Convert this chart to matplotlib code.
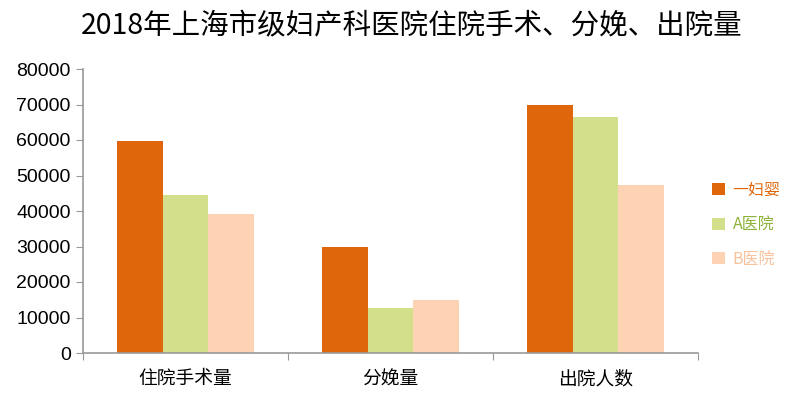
import matplotlib
matplotlib.use("Agg")
import matplotlib.pyplot as plt
import numpy as np

plt.rcParams['font.family'] = ['Noto Sans CJK SC', 'DejaVu Sans']

categories = ["住院手术量", "分娩量", "出院人数"]
series_names = ["一妇婴", "A医院", "B医院"]
yifuying = [59800, 29800, 69800]
hospital_a = [44500, 12600, 66500]
hospital_b = [39100, 14900, 47300]
yticks = [0, 10000, 20000, 30000, 40000, 50000, 60000, 70000, 80000]

colors = ["#E0660B", "#D4DF8C", "#FDD3B4"]
label_colors = ["#E0660B", "#8DB33A", "#F8C39C"]

fig = plt.figure(figsize=(8, 4), dpi=100)
ax = fig.add_axes([0.104, 0.1175, 0.7685, 0.71])

x = np.arange(len(categories))
w = 0.222
series = [yifuying, hospital_a, hospital_b]
handles = []
for i, (vals, c) in enumerate(zip(series, colors)):
    b = ax.bar(x + (i - 1) * w, vals, width=w, color=c, label=series_names[i])
    handles.append(b)

ax.set_xlim(-0.5, 2.5)
ax.set_ylim(0, 80000)
ax.set_yticks(yticks)
ax.set_yticklabels([str(v) for v in yticks], fontsize=14, family=['Liberation Sans', 'DejaVu Sans'])
ax.set_xticks([-0.5, 0.5, 1.5, 2.5])
ax.set_xticklabels([])
ax.set_xticks(x, minor=True)
ax.set_xticklabels(categories, minor=True, fontsize=13.5, fontweight='medium')
ax.tick_params(axis='x', which='minor', length=0, pad=11)
ax.tick_params(axis='x', which='major', length=5, color='#999999', direction='out')
ax.tick_params(axis='y', length=5, color='#999999', direction='out', pad=4)

for s in ['top', 'right']:
    ax.spines[s].set_visible(False)
for s in ['left', 'bottom']:
    ax.spines[s].set_color('#999999')
    ax.spines[s].set_linewidth(1.2)

leg = ax.legend(handles=handles, labels=series_names, loc='center left',
                bbox_to_anchor=(0.872, 0.438), bbox_transform=fig.transFigure,
                frameon=False, handlelength=0.8, handleheight=0.8,
                handletextpad=0.5, labelspacing=1.1, fontsize=11.5,
                labelcolor=label_colors)

fig.text(0.515, 0.935, "2018年上海市级妇产科医院住院手术、分娩、出院量",
         ha='center', va='center', fontsize=20.5)

fig.savefig("out.png", dpi=100)
